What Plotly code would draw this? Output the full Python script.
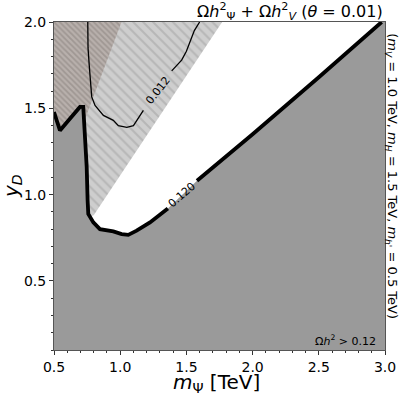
import plotly.graph_objects as go

# relic density = 0.120 contour (thick line)
relic_x = [0.5, 0.545, 0.62, 0.696, 0.721, 0.734, 0.747, 0.754, 0.759, 0.797, 0.847,
           0.948, 1.011, 1.061, 1.124, 1.225, 1.36, 1.58, 2.0, 2.5, 2.975]
relic_y = [1.478, 1.372, 1.44, 1.508, 1.508, 1.355, 1.159, 0.965, 0.888, 0.839, 0.80,
           0.787, 0.771, 0.767, 0.791, 0.839, 0.92, 1.08, 1.35, 1.68, 2.0]
gap_lo, gap_hi = 1.37, 1.57      # break of the line where the 0.120 label sits

# 0.012 contour (thin line)
c012_x = [0.755, 0.757, 0.767, 0.785, 0.81, 0.873, 0.948, 0.986, 1.05, 1.10, 1.175,
          None, 1.389, 1.464, 1.50, 1.56, 1.60]
c012_y = [2.0, 1.85, 1.74, 1.566, 1.517, 1.459, 1.43, 1.40, 1.39, 1.40, 1.488,
          None, 1.717, 1.779, 1.83, 1.95, 2.0]

# hatched exclusion wedge and darker (brown) corner
wedge_x = [0.72, 0.80, 1.77, 0.72]
wedge_y = [0.86, 0.88, 2.0, 2.0]
brown_x = [0.5, 1.01, 0.75, 0.72, 0.5]
brown_y = [2.0, 2.0, 1.47, 1.40, 1.30]

x_min, x_max = 0.5, 3.0
y_min, y_max = 0.1, 2.0

fig = go.Figure()

fig.add_trace(go.Scatter(
    x=wedge_x, y=wedge_y, fill='toself', mode='none',
    fillcolor='#cdcdcd',
    fillpattern=dict(shape='\\', bgcolor='#cecece', fgcolor='#a0a0a0', size=7, solidity=0.3),
    hoverinfo='skip'))

fig.add_trace(go.Scatter(
    x=brown_x, y=brown_y, fill='toself', mode='none',
    fillcolor='#b2aaa6',
    fillpattern=dict(shape='\\', bgcolor='#b8b0ac', fgcolor='#857d79', size=4, solidity=0.45),
    hoverinfo='skip'))

# grey region with Omega h^2 > 0.12
grey_x = relic_x + [x_max, x_max, x_min]
grey_y = relic_y + [y_max, y_min, y_min]
fig.add_trace(go.Scatter(x=grey_x, y=grey_y, fill='toself', mode='none',
                         fillcolor='#9a9a9a', hoverinfo='skip'))

# thick line with a gap for the label
line_x, line_y = [], []
for xv, yv in zip(relic_x, relic_y):
    if gap_lo < xv < gap_hi:
        continue
    if xv >= gap_hi and line_x and line_x[-1] is not None and line_x[-1] < gap_lo:
        line_x.append(None)
        line_y.append(None)
    line_x.append(xv)
    line_y.append(yv)
fig.add_trace(go.Scatter(x=line_x, y=line_y, mode='lines',
                         line=dict(color='black', width=3.8), hoverinfo='skip'))

fig.add_trace(go.Scatter(x=c012_x, y=c012_y, mode='lines',
                         line=dict(color='black', width=1.3), hoverinfo='skip'))

font = 'DejaVu Sans'
fig.add_annotation(x=1.47, y=1.0, text='0.120', showarrow=False, textangle=-41,
                   font=dict(family=font, size=11, color='black'))
fig.add_annotation(x=1.285, y=1.605, text='0.012', showarrow=False, textangle=-52,
                   font=dict(family=font, size=11, color='black'))

fig.add_annotation(xref='paper', yref='paper', x=1.0, y=1.0, xanchor='right', yanchor='bottom',
                   text='Ω<i>h</i><sup>2</sup><sub>Ψ</sub> + Ω<i>h</i><sup>2</sup><sub><i>V</i></sub> (<i>θ</i> = 0.01)',
                   showarrow=False, yshift=-3, font=dict(family=font, size=16, color='black'))
fig.add_annotation(xref='paper', yref='paper', x=1.021, y=0.53, xanchor='center', yanchor='middle',
                   text='(<i>m<sub>V</sub></i> = 1.0 TeV, <i>m<sub>H</sub></i> = 1.5 TeV, <i>m<sub>h\'</sub></i> = 0.5 TeV)',
                   showarrow=False, textangle=90,
                   font=dict(family=font, size=13, color='black'))
fig.add_annotation(xref='paper', yref='paper', x=0.98, y=0.0, xanchor='right', yanchor='bottom',
                   text='Ω<i>h</i><sup>2</sup> > 0.12', showarrow=False,
                   font=dict(family=font, size=11, color='black'))

# axis titles placed by hand so the margins stay fixed
fig.add_annotation(xref='paper', yref='paper', x=0.49, y=0.0, xanchor='center', yanchor='top',
                   yshift=-18, text='<i>m</i><sub>Ψ</sub> [TeV]', showarrow=False,
                   font=dict(family=font, size=20, color='black'))
fig.add_annotation(xref='paper', yref='paper', x=0.0, y=0.5, xanchor='right', yanchor='middle',
                   xshift=-27, text='<i>y<sub>D</sub></i>', showarrow=False, textangle=-90,
                   font=dict(family=font, size=20, color='black'))

axis_common = dict(showgrid=False, zeroline=False, showline=True, linecolor='#555555',
                   linewidth=1, mirror=True, ticks='outside', ticklen=4, tickcolor='#333333',
                   automargin=False, tickfont=dict(family=font, size=14, color='black'))

fig.update_xaxes(range=[x_min, x_max], tickvals=[0.5, 1.0, 1.5, 2.0, 2.5, 3.0],
                 ticktext=['0.5', '1.0', '1.5', '2.0', '2.5', '3.0'],
                 minor=dict(dtick=0.1, ticks='outside', ticklen=2, tickcolor='#333333'),
                 **axis_common)
fig.update_yaxes(range=[y_min, y_max], tickvals=[0.5, 1.0, 1.5, 2.0],
                 ticktext=['0.5', '1.0', '1.5', '2.0'],
                 minor=dict(dtick=0.1, tick0=0.0, ticks='outside', ticklen=2, tickcolor='#333333'),
                 **axis_common)

fig.update_layout(width=399, height=396, showlegend=False,
                  margin=dict(l=54, r=14, t=22, b=46),
                  plot_bgcolor='white', paper_bgcolor='white')

# drop the default 8px page margin so the figure fills the window exactly
fig.write_html('out.html', config={'displayModeBar': False},
               post_script="document.body.style.margin='0';")
